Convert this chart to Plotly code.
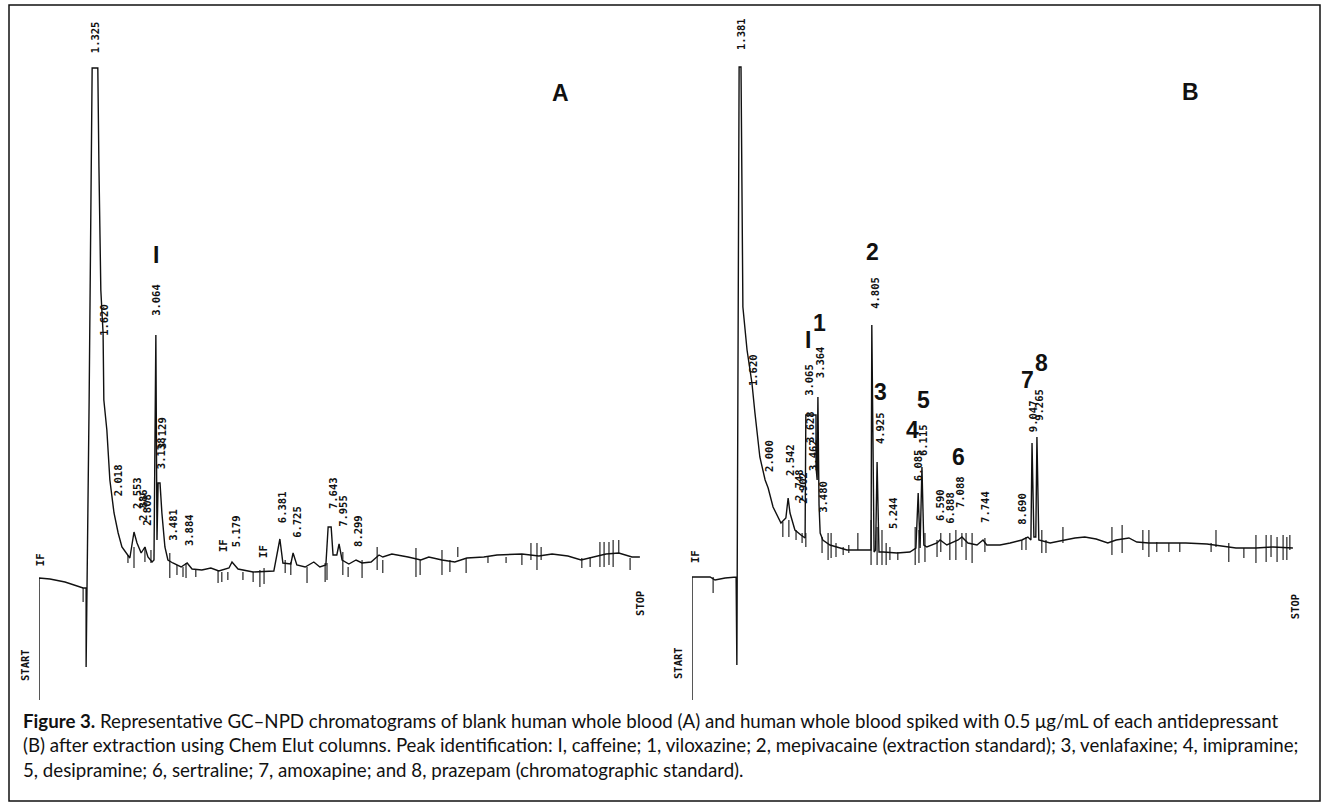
import plotly.graph_objects as go

W, H = 1326, 804

# ---------------- Panel A: blank whole blood (time in min, detector response) ----------------
a_time = [0.00, 0.00, 0.29, 0.69, 1.17, 1.25, 1.25, 1.27, 1.33, 1.41, 1.56, 1.59, 1.62, 1.64, 1.70, 1.72,
          1.80, 1.88, 1.99, 2.10, 2.20, 2.31, 2.41, 2.52, 2.60, 2.71, 2.81, 2.89, 3.00, 3.05, 3.10, 3.13,
          3.16, 3.21, 3.26, 3.34, 3.42, 3.55, 3.77, 3.93, 4.06, 4.32, 4.56, 4.77, 5.04, 5.12, 5.28, 5.68,
          6.23, 6.39, 6.47, 6.68, 6.74, 6.84, 7.06, 7.29, 7.45, 7.61, 7.67, 7.75, 7.80, 7.90, 7.96, 8.04,
          8.22, 8.41, 8.57, 8.81, 9.02, 9.12, 9.36, 9.79, 10.13, 10.34, 10.69, 11.03, 11.35, 11.80, 12.15,
          12.81, 13.26, 13.61, 14.03, 14.38, 14.72, 15.04, 15.38, 15.73, 15.94]
a_resp = [-125, -3, -4, -7, -13, -13, -92, -25, 175, 507, 507, 408, 325, 285, 242, 175,
          145, 95, 62, 42, 28, 22, 17, 43, 32, 22, 28, 18, 13, 15, 240, 35,
          92, 92, 62, 28, 15, 12, 8, 12, 6, 5, 7, 4, 7, 13, 6, 3,
          4, 36, 12, 11, 22, 10, 8, 13, 8, 10, 48, 48, 20, 20, 31, 15,
          11, 15, 12, 13, 20, 18, 21, 18, 15, 18, 15, 13, 17, 18, 20,
          21, 19, 21, 19, 15, 18, 21, 22, 18, 18]

# integrator event marks (time, top, bottom)
a_tick_t = [1.17, 2.36, 2.52, 2.81, 2.97, 3.47, 3.66, 3.82, 3.90, 4.16, 4.75, 4.85, 5.01, 5.41, 5.68, 5.86,
            5.97, 6.53, 6.68, 7.11, 7.59, 7.64, 8.06, 8.20, 8.57, 8.97, 9.12, 10.00, 10.11, 10.69, 10.90,
            11.11, 11.33, 11.91, 12.39, 12.81, 13.05, 13.21, 13.32, 14.40, 14.62, 14.88, 14.99, 15.12,
            15.23, 15.38, 15.68]
a_tick_hi = [-13, 20, 28, 28, 25, 22, 10, 8, 12, 5, 5, 3, 3, 3, 3, 5,
             7, 15, 13, 8, 12, 12, 23, 8, 15, 28, 15, 27, 15, 25, 15,
             28, 17, 18, 18, 20, 32, 32, 28, 17, 18, 33, 33, 33,
             35, 35, 17]
a_tick_lo = [-27, 12, 7, 13, 12, -3, 0, -2, -3, -2, -8, -7, -5, -5, -7, -12,
             -9, 2, 0, -8, -7, -5, 0, -2, -3, 5, 2, -2, 0, 0, 3,
             18, 2, 12, 12, 10, 15, 5, 15, 7, 8, 8, 8, 10,
             8, 22, 5]

a_lbl_text = ["1.325", "1.620", "3.064", "2.018", "2.553", "2.886", "2.808", "3.138", "3.129", "3.481",
              "3.884", "IF", "5.179", "IF", "6.381", "6.725", "7.643", "7.955", "8.299", "STOP", "IF"]
a_lbl_t = [1.49, 1.72, 3.10, 2.10, 2.60, 2.76, 2.86, 3.24, 3.26, 3.55,
           3.98, 4.88, 5.23, 5.94, 6.45, 6.84, 7.80, 8.06, 8.46, 15.94, 0.03]
a_lbl_r = [538, 255, 275, 95, 82, 70, 65, 122, 142, 50,
           45, 30, 44, 24, 68, 53, 82, 64, 44, -28, 15]

a_peak_text = ["I"]
a_peak_t = [3.10]
a_peak_r = [320]

# ---------------- Panel B: spiked whole blood ----------------
b_time = [0.00, 0.00, 0.48, 0.61, 0.88, 1.17, 1.19, 1.25, 1.30, 1.33, 1.35, 1.46, 1.54, 1.59, 1.67, 1.80,
          1.94, 2.02, 2.15, 2.36, 2.49, 2.55, 2.60, 2.73, 2.89, 3.00, 3.02, 3.29, 3.29, 3.32, 3.34, 3.37,
          3.40, 3.47, 3.66, 3.85, 4.11, 4.64, 4.75, 4.77, 4.83, 4.87, 4.91, 4.96, 5.07, 5.44, 5.78, 5.94,
          6.00, 6.05, 6.10, 6.15, 6.23, 6.50, 6.58, 6.76, 7.06, 7.16, 7.32, 7.56, 7.72, 7.82, 8.17, 8.44,
          8.75, 8.91, 8.99, 9.02, 9.07, 9.12, 9.15, 9.20, 9.50, 9.89, 10.16, 10.42, 10.72, 11.03, 11.25,
          11.59, 11.80, 12.12, 12.57, 13.10, 13.66, 14.08, 14.43, 14.96, 15.41, 15.94]
b_resp = [-125, -2, -2, -5, -3, -2, -90, 508, 508, 335, 268, 225, 202, 192, 162, 118,
          95, 87, 68, 52, 57, 77, 62, 45, 40, 37, 160, 160, 108, 95, 178, 70,
          42, 35, 30, 28, 25, 25, 25, 250, 23, 25, 113, 23, 23, 22, 23, 27,
          82, 27, 108, 30, 28, 32, 35, 30, 35, 38, 32, 30, 35, 30, 30, 32,
          35, 38, 35, 132, 38, 38, 138, 35, 32, 35, 37, 38, 36, 32, 35,
          37, 33, 32, 32, 32, 31, 29, 27, 27, 28, 27]

b_tick_t = [0.56, 2.41, 2.57, 2.76, 2.92, 3.02, 3.45, 3.61, 3.69, 3.82, 4.01, 4.16, 4.40, 4.75, 4.91, 5.04,
            5.15, 5.25, 5.46, 5.92, 6.02, 6.18, 6.50, 6.60, 6.84, 7.00, 7.16, 7.27, 7.43, 7.77, 8.75, 8.86,
            9.28, 9.39, 9.84, 11.14, 11.41, 11.96, 12.12, 12.33, 12.65, 12.94, 13.77, 13.90, 14.24, 14.64,
            14.96, 15.23, 15.36, 15.52, 15.68, 15.78, 15.86]
b_tick_hi = [-2, 53, 55, 45, 42, 42, 38, 42, 42, 32, 28, 30, 42, 55, 48, 45,
             32, 28, 23, 48, 45, 42, 35, 42, 42, 45, 42, 42, 42, 37, 35, 38,
             45, 35, 48, 48, 50, 45, 45, 33, 32, 32, 32, 45, 32, 27,
             40, 40, 40, 38, 40, 38, 40]
b_tick_lo = [-18, 38, 38, 35, 32, 28, 22, 15, 17, 18, 20, 22, 25, 10, 10, 10,
             10, 15, 15, 10, 12, 13, 18, 23, 15, 15, 28, 15, 12, 23, 25, 25,
             22, 22, 32, 20, 22, 25, 18, 23, 23, 23, 23, 28, 13, 17,
             12, 13, 18, 13, 15, 15, 25]

b_lbl_text = ["1.381", "1.620", "2.000", "2.542", "2.748", "2.902", "3.065", "3.364", "3.628", "3.462",
              "3.480", "4.805", "4.925", "5.244", "6.085", "6.115", "6.590", "6.888", "7.088", "7.744",
              "8.690", "9.047", "9.265", "IF", "STOP"]
b_lbl_t = [1.30, 1.62, 2.04, 2.60, 2.84, 2.94, 3.10, 3.40, 3.13, 3.21,
           3.47, 4.85, 4.99, 5.33, 6.00, 6.13, 6.58, 6.84, 7.11, 7.77,
           8.75, 9.05, 9.20, 0.08, 16.00]
b_lbl_r = [541, 205, 119, 115, 90, 87, 195, 213, 148, 120,
           78, 282, 147, 62, 110, 135, 70, 67, 83, 68,
           66, 159, 170, 18, -32]

b_peak_text = ["I", "1", "2", "3", "4", "5", "6", "7", "8"]
b_peak_t = [3.08, 3.37, 4.80, 4.99, 5.84, 6.13, 7.06, 8.89, 9.28]
b_peak_r = [235, 252, 323, 183, 145, 175, 118, 195, 212]

caption_lines = [
    "<b>Figure 3.</b> Representative GC–NPD chromatograms of blank human whole blood (A) and human whole blood spiked with 0.5 μg/mL of each antidepressant",
    "(B) after extraction using Chem Elut columns. Peak identification: I, caffeine; 1, viloxazine; 2, mepivacaine (extraction standard); 3, venlafaxine; 4, imipramine;",
    "5, desipramine; 6, sertraline; 7, amoxapine; and 8, prazepam (chromatographic standard).",
]


def tick_xy(ts, hi, lo):
    xs, ys = [], []
    for t, h, l in zip(ts, hi, lo):
        xs += [t, t, None]
        ys += [l, h, None]
    return xs, ys


fig = go.Figure()
line_style = dict(color="#111111", width=1.4)

fig.add_trace(go.Scatter(x=a_time, y=a_resp, mode="lines", line=line_style,
                         xaxis="x", yaxis="y", showlegend=False, hoverinfo="skip"))
tx, ty = tick_xy(a_tick_t, a_tick_hi, a_tick_lo)
fig.add_trace(go.Scatter(x=tx, y=ty, mode="lines", line=dict(color="#111111", width=1.1),
                         xaxis="x", yaxis="y", showlegend=False, hoverinfo="skip"))

fig.add_trace(go.Scatter(x=b_time, y=b_resp, mode="lines", line=line_style,
                         xaxis="x2", yaxis="y2", showlegend=False, hoverinfo="skip"))
tx, ty = tick_xy(b_tick_t, b_tick_hi, b_tick_lo)
fig.add_trace(go.Scatter(x=tx, y=ty, mode="lines", line=dict(color="#111111", width=1.1),
                         xaxis="x2", yaxis="y2", showlegend=False, hoverinfo="skip"))

mono = dict(family="DejaVu Sans Mono", size=10.5, color="#111111")
bigf = dict(family="Liberation Sans", size=23, color="#111111")

ann = []
for txt, t, r in zip(a_lbl_text, a_lbl_t, a_lbl_r):
    ann.append(dict(text="<b>" + txt + "</b>", x=t, y=r, xref="x", yref="y", showarrow=False,
                    textangle=-90, font=mono, xanchor="center", yanchor="middle"))
for txt, t, r in zip(b_lbl_text, b_lbl_t, b_lbl_r):
    ann.append(dict(text="<b>" + txt + "</b>", x=t, y=r, xref="x2", yref="y2", showarrow=False,
                    textangle=-90, font=mono, xanchor="center", yanchor="middle"))
for txt, t, r in zip(a_peak_text, a_peak_t, a_peak_r):
    ann.append(dict(text="<b>" + txt + "</b>", x=t, y=r, xref="x", yref="y", showarrow=False,
                    font=bigf, xanchor="center", yanchor="middle"))
for txt, t, r in zip(b_peak_text, b_peak_t, b_peak_r):
    ann.append(dict(text="<b>" + txt + "</b>", x=t, y=r, xref="x2", yref="y2", showarrow=False,
                    font=bigf, xanchor="center", yanchor="middle"))

# panel letters and START labels (paper coordinates)
for txt, px, py in [("A", 560, 93), ("B", 1190, 92)]:
    ann.append(dict(text="<b>" + txt + "</b>", x=px / W, y=1 - py / H, xref="paper", yref="paper",
                    showarrow=False, font=bigf, xanchor="center", yanchor="middle"))
for px, py in [(25, 665), (678, 663)]:
    ann.append(dict(text="<b>START</b>", x=px / W, y=1 - py / H, xref="paper", yref="paper",
                    showarrow=False, textangle=-90, font=mono, xanchor="center", yanchor="middle"))

ann.append(dict(text="<br>".join(caption_lines), x=21 / W, y=1 - 745 / H, xref="paper", yref="paper",
                showarrow=False, align="left", xanchor="left", yanchor="middle",
                font=dict(family="Lato", size=18.7, color="#111111")))

ax_common = dict(visible=False, showgrid=False, zeroline=False, fixedrange=True)
fig.update_layout(
    width=W, height=H, autosize=False,
    margin=dict(l=0, r=0, t=0, b=0),
    paper_bgcolor="white", plot_bgcolor="white",
    xaxis=dict(domain=[39 / W, 661 / W], range=[0, 16.5], anchor="y", **ax_common),
    yaxis=dict(domain=[1 - 715 / H, 1 - 15 / H], range=[-140, 560], anchor="x", **ax_common),
    xaxis2=dict(domain=[692 / W, 1314 / W], range=[0, 16.5], anchor="y2", **ax_common),
    yaxis2=dict(domain=[1 - 715 / H, 1 - 15 / H], range=[-140, 560], anchor="x2", **ax_common),
    annotations=ann,
    shapes=[dict(type="rect", xref="paper", yref="paper", x0=9 / W, x1=1320 / W,
                 y0=1 - 801 / H, y1=1 - 5 / H, line=dict(color="#111111", width=1.5))],
)

fig.write_html("out.html")
